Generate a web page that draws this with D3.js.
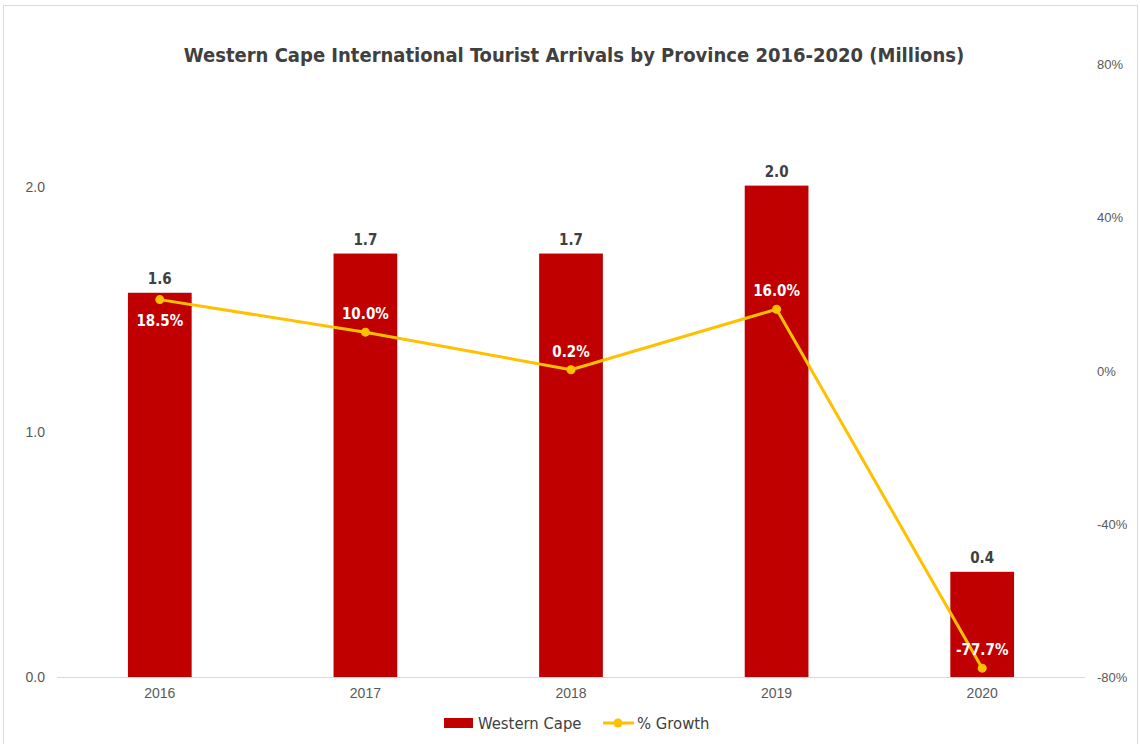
<!DOCTYPE html>
<html>
<head>
<meta charset="utf-8">
<script src="https://cdn.jsdelivr.net/npm/d3@7"></script>
<style>
  body { margin: 0; background: #fff; }
  svg { display: block; }
</style>
</head>
<body>
<div id="chart"></div>
<script>
// chart data
let years = ["2016", "2017", "2018", "2019", "2020"]
let arrivals = [1.567, 1.727, 1.727, 2.004, 0.429]
let arrivalLabels = ["1.6", "1.7", "1.7", "2.0", "0.4"]
let growth = [18.5, 10.0, 0.2, 16.0, -77.7]
let growthLabels = ["18.5%", "10.0%", "0.2%", "16.0%", "-77.7%"]
let growthLabelSide = ["below", "above", "above", "above", "above"]
let leftTicks = [0, 1, 2]
let rightTicks = [-80, -40, 0, 40, 80]

let width = 1140, height = 744
let plot = { left: 57, right: 1085, top: 64, bottom: 677 }
let titleFont = "'DejaVu Sans Condensed', 'DejaVu Sans', sans-serif"
let axisFont = "'Liberation Sans', Arial, sans-serif"

let svg = d3.select("#chart").append("svg")
    .attr("width", width)
    .attr("height", height)

// outer border
svg.append("rect")
    .attr("x", 3.5).attr("y", 5.5)
    .attr("width", 1134).attr("height", 745)
    .attr("fill", "none")
    .attr("stroke", "#d9d9d9")

let x = d3.scaleBand()
    .domain(years)
    .range([plot.left, plot.right])
    .padding(0)

let yLeft = d3.scaleLinear().domain([0, 2.5]).range([plot.bottom, plot.top])
let yRight = d3.scaleLinear().domain([-80, 80]).range([plot.bottom, plot.top])

let barWidth = x.bandwidth() * 0.31

// title
svg.append("text")
    .attr("x", 574).attr("y", 62)
    .attr("text-anchor", "middle")
    .style("font-family", titleFont)
    .style("font-weight", "bold")
    .style("font-size", "20px")
    .attr("fill", "#404040")
    .text("Western Cape International Tourist Arrivals by Province 2016-2020 (Millions)")

// left axis labels
svg.append("g").selectAll("text")
    .data(leftTicks)
    .join("text")
    .attr("x", 45)
    .attr("y", d => yLeft(d) + 5)
    .attr("text-anchor", "end")
    .style("font-family", axisFont)
    .style("font-size", "14px")
    .attr("fill", "#595959")
    .text(d => d3.format(".1f")(d))

// right axis labels
svg.append("g").selectAll("text")
    .data(rightTicks)
    .join("text")
    .attr("x", 1097)
    .attr("y", d => yRight(d) + 5)
    .attr("text-anchor", "start")
    .style("font-family", axisFont)
    .style("font-size", "13px")
    .attr("fill", "#595959")
    .text(d => d + "%")

// bars
svg.append("g").selectAll("rect")
    .data(years)
    .join("rect")
    .attr("x", d => x(d) + (x.bandwidth() - barWidth) / 2)
    .attr("y", (d, i) => yLeft(arrivals[i]))
    .attr("width", barWidth)
    .attr("height", (d, i) => yLeft(0) - yLeft(arrivals[i]))
    .attr("fill", "#c00000")

// baseline
svg.append("line")
    .attr("x1", plot.left).attr("x2", plot.right)
    .attr("y1", plot.bottom + 0.5).attr("y2", plot.bottom + 0.5)
    .attr("stroke", "#d9d9d9")

// category labels
svg.append("g").selectAll("text")
    .data(years)
    .join("text")
    .attr("x", d => x(d) + x.bandwidth() / 2)
    .attr("y", 698)
    .attr("text-anchor", "middle")
    .style("font-family", axisFont)
    .style("font-size", "14px")
    .attr("fill", "#595959")
    .text(d => d)

// bar value labels
svg.append("g").selectAll("text")
    .data(years)
    .join("text")
    .attr("x", d => x(d) + x.bandwidth() / 2)
    .attr("y", (d, i) => yLeft(arrivals[i]) - 9)
    .attr("text-anchor", "middle")
    .style("font-family", titleFont)
    .style("font-weight", "bold")
    .style("font-size", "15px")
    .attr("fill", "#404040")
    .text((d, i) => arrivalLabels[i])

// growth line
let line = d3.line()
    .x((d, i) => x(years[i]) + x.bandwidth() / 2)
    .y(d => yRight(d))

svg.append("path")
    .datum(growth)
    .attr("d", line)
    .attr("fill", "none")
    .attr("stroke", "#ffc000")
    .attr("stroke-width", 3)
    .attr("stroke-linejoin", "round")

svg.append("g").selectAll("circle")
    .data(growth)
    .join("circle")
    .attr("cx", (d, i) => x(years[i]) + x.bandwidth() / 2)
    .attr("cy", d => yRight(d))
    .attr("r", 4.5)
    .attr("fill", "#ffc000")

svg.append("g").selectAll("text")
    .data(growth)
    .join("text")
    .attr("x", (d, i) => x(years[i]) + x.bandwidth() / 2)
    .attr("y", (d, i) => yRight(d) + (growthLabelSide[i] == "below" ? 26 : -13))
    .attr("text-anchor", "middle")
    .style("font-family", titleFont)
    .style("font-weight", "bold")
    .style("font-size", "15px")
    .attr("fill", "#ffffff")
    .text((d, i) => growthLabels[i])

// legend
let legend = svg.append("g")
legend.append("rect")
    .attr("x", 444).attr("y", 718)
    .attr("width", 29).attr("height", 10)
    .attr("fill", "#c00000")
legend.append("text")
    .attr("x", 478).attr("y", 729)
    .style("font-family", titleFont)
    .style("font-size", "16.5px")
    .attr("fill", "#404040")
    .text("Western Cape")
legend.append("line")
    .attr("x1", 603).attr("x2", 634)
    .attr("y1", 723).attr("y2", 723)
    .attr("stroke", "#ffc000")
    .attr("stroke-width", 3)
legend.append("circle")
    .attr("cx", 618).attr("cy", 723).attr("r", 4.5)
    .attr("fill", "#ffc000")
legend.append("text")
    .attr("x", 637).attr("y", 729)
    .style("font-family", titleFont)
    .style("font-size", "16.5px")
    .attr("fill", "#404040")
    .text("% Growth")
</script>
</body>
</html>
